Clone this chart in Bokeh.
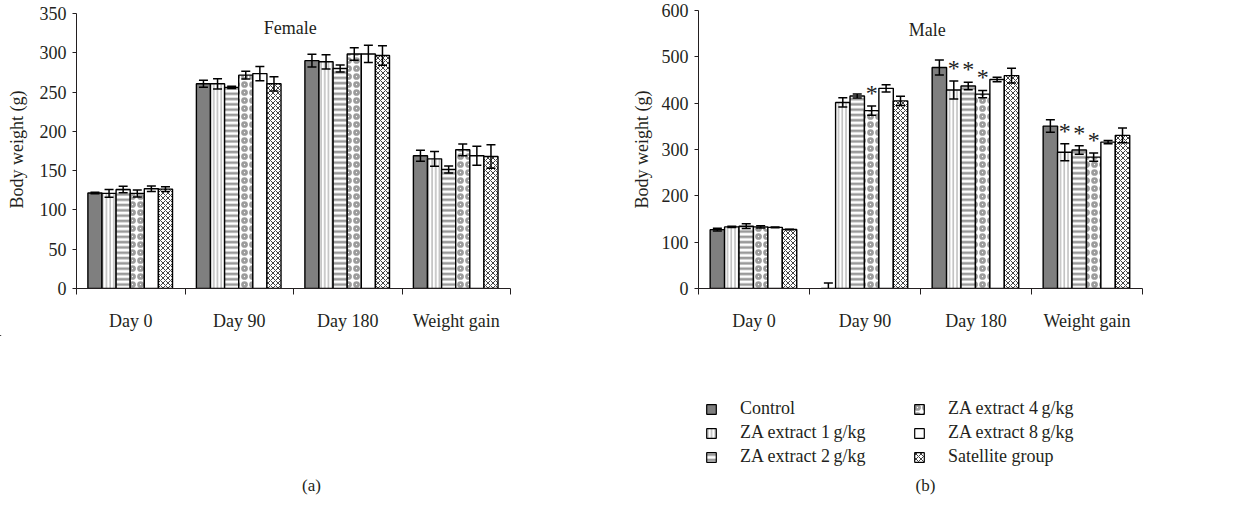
from bokeh.plotting import figure
from bokeh.models import ColumnDataSource, FixedTicker, Label, Legend, LegendItem, Range1d
from bokeh.layouts import row, column
from bokeh.embed import file_html
from bokeh.resources import INLINE

FONT = "Liberation Serif"
INK = "#231f20"

categories = ["Day 0", "Day 90", "Day 180", "Weight gain"]
series = ["Control", "ZA extract 1\u2009g/kg", "ZA extract 2\u2009g/kg",
          "ZA extract 4\u2009g/kg", "ZA extract 8\u2009g/kg", "Satellite group"]

# Female means / SD
f_control = [121.5, 260.5, 290.0, 169.0]
f_za1 = [121.0, 260.5, 288.5, 165.0]
f_za2 = [126.0, 256.0, 280.0, 151.5]
f_za4 = [121.0, 271.5, 298.5, 176.5]
f_za8 = [127.0, 273.5, 298.5, 169.0]
f_sat = [126.5, 260.5, 296.5, 168.0]
f_control_err = [1.0, 4.5, 8.0, 7.0]
f_za1_err = [5.0, 6.5, 9.0, 9.5]
f_za2_err = [4.0, 1.5, 4.5, 4.5]
f_za4_err = [4.5, 5.0, 8.0, 7.5]
f_za8_err = [3.5, 9.0, 11.0, 12.0]
f_sat_err = [3.0, 9.0, 12.5, 15.0]

# Male means / SD
m_control = [127.0, 0.0, 477.0, 350.5]
m_za1 = [133.0, 401.5, 428.5, 294.0]
m_za2 = [134.5, 415.5, 437.0, 299.0]
m_za4 = [133.0, 384.0, 419.5, 283.5]
m_za8 = [132.0, 432.0, 451.0, 316.0]
m_sat = [127.5, 405.0, 459.5, 330.5]
m_control_err = [3.0, 12.0, 16.0, 13.5]
m_za1_err = [1.5, 10.0, 19.5, 18.5]
m_za2_err = [5.0, 4.5, 8.0, 9.0]
m_za4_err = [2.5, 10.0, 8.0, 9.0]
m_za8_err = [1.0, 8.0, 5.0, 3.5]
m_sat_err = [0.5, 10.0, 16.0, 16.0]

# significance markers (male)
m_stars = [[0, 0, 0, 0], [0, 0, 1, 1], [0, 0, 1, 1], [0, 1, 1, 1], [0, 0, 0, 0], [0, 0, 0, 0]]
f_stars = [[0, 0, 0, 0]] * 6


def styles():
    return [
        dict(fill_color="#7f7f7f"),
        dict(fill_color="white", hatch_pattern="vertical_line", hatch_color="#9a9a9a", hatch_scale=3.7, hatch_weight=1.0),
        dict(fill_color="white", hatch_pattern="horizontal_line", hatch_color="#9a9a9a", hatch_scale=5.3, hatch_weight=2.6),
        dict(fill_color="white", hatch_pattern="ring", hatch_color="#9c9c9c", hatch_scale=8, hatch_weight=2.7),
        dict(fill_color="white"),
        dict(fill_color="white", hatch_pattern="diagonal_cross", hatch_color="#111111", hatch_scale=5, hatch_weight=0.8),
    ]


OFFSET = 0.105
BW = 0.13
TOP_H = 335


def make_panel(means, errs, stars, ymax, ystep, ytop, bl, br, title, title_xy, lab_standoff):
    p = figure(width=610, height=TOP_H, x_range=Range1d(0, 4), y_range=Range1d(0, ytop),
               output_backend="svg", toolbar_location=None,
               min_border_left=bl, min_border_right=br, min_border_top=10, min_border_bottom=47)
    p.outline_line_color = None
    p.xgrid.visible = False
    p.ygrid.visible = False

    xa = p.xaxis[0]
    xa.ticker = FixedTicker(ticks=[i + 0.5 for i in range(4)], minor_ticks=[0, 1, 2, 3, 4])
    xa.major_label_overrides = {i + 0.5: c for i, c in enumerate(categories)}
    xa.major_tick_out = 0
    xa.major_tick_in = 0
    xa.minor_tick_out = 6
    xa.minor_tick_in = 0
    xa.minor_tick_line_color = INK
    xa.axis_line_color = INK
    xa.major_label_standoff = 16
    xa.major_label_text_font = FONT
    xa.major_label_text_font_size = "18px"
    xa.major_label_text_color = INK

    ya = p.yaxis[0]
    ya.ticker = FixedTicker(ticks=list(range(0, ymax + 1, ystep)))
    ya.bounds = (0, ymax)
    ya.major_tick_out = 4
    ya.major_tick_in = 0
    ya.minor_tick_line_color = None
    ya.axis_line_color = INK
    ya.major_tick_line_color = INK
    ya.major_label_standoff = 6
    ya.major_label_text_font = FONT
    ya.major_label_text_font_size = "18px"
    ya.major_label_text_color = INK
    ya.axis_label = "Body weight (g)"
    ya.axis_label_text_font = FONT
    ya.axis_label_text_font_style = "normal"
    ya.axis_label_text_font_size = "18px"
    ya.axis_label_text_color = INK
    ya.axis_label_standoff = lab_standoff

    st = styles()
    for j, name in enumerate(series):
        xs = [i + OFFSET + (j + 0.5) * BW for i in range(4)]
        m = means[j]
        e = errs[j]
        src = ColumnDataSource(dict(
            x=xs, top=m,
            lo=[a - b for a, b in zip(m, e)],
            hi=[a + b for a, b in zip(m, e)],
        ))
        p.vbar(x="x", top="top", bottom=0, width=BW, source=src,
               line_color="black", line_width=1.4, **st[j])
        p.segment(x0="x", y0="lo", x1="x", y1="hi", source=src, line_color="black", line_width=1.5)
        p.scatter(x="x", y="hi", source=src, marker="dash", size=9, line_color="black", line_width=1.5)
        p.scatter(x="x", y="lo", source=src, marker="dash", size=9, line_color="black", line_width=1.5)
        sx = [x for x, s in zip(xs, stars[j]) if s]
        sy = [a + b for a, b, s in zip(m, e, stars[j]) if s]
        if sx:
            p.text(x=sx, y=sy, text=["*"] * len(sx), text_align="center", text_baseline="bottom",
                   text_font={"value": FONT}, text_font_size="24px", text_color="#222222")

    p.add_layout(Label(x=title_xy[0], y=title_xy[1], text=title, text_align="center",
                       text_baseline="middle", text_font=FONT, text_font_size="18px", text_color=INK))
    return p


female = make_panel(
    [f_control, f_za1, f_za2, f_za4, f_za8, f_sat],
    [f_control_err, f_za1_err, f_za2_err, f_za4_err, f_za8_err, f_sat_err],
    f_stars, 350, 50, 353.8, 76, 100, "Female", (1.97, 332), 10)

male = make_panel(
    [m_control, m_za1, m_za2, m_za4, m_za8, m_sat],
    [m_control_err, m_za1_err, m_za2_err, m_za4_err, m_za8_err, m_sat_err],
    m_stars, 600, 100, 600, 88, 78, "Male", (2.06, 557), 7)

# bottom strip: legend and panel captions (screen-like coordinates, y downwards)
BOT_H = 163
bottom = figure(width=1220, height=BOT_H, x_range=Range1d(0, 1220), y_range=Range1d(BOT_H, 0),
                output_backend="svg", toolbar_location=None,
                x_axis_location=None, y_axis_location=None,
                min_border_left=0, min_border_right=0, min_border_top=0, min_border_bottom=0)
bottom.outline_line_color = None
bottom.xgrid.visible = False
bottom.ygrid.visible = False

# off-screen swatches that only feed the legend glyphs
dummy = []
bst = styles()
for j in range(6):
    dummy.append(bottom.vbar(x=[-50], top=[-50], bottom=[-60], width=1,
                             line_color="black", line_width=1.2, **bst[j]))


def make_legend(items, loc):
    return Legend(items=[LegendItem(label=series[k], renderers=[dummy[k]]) for k in items],
                  location=loc, orientation="vertical",
                  glyph_width=12, glyph_height=12, label_standoff=23,
                  label_height=20, spacing=3, padding=0, margin=0,
                  border_line_color=None, background_fill_alpha=0,
                  label_text_font=FONT, label_text_font_size="18px", label_text_color=INK)


bottom.add_layout(make_legend([0, 1, 2], (705, 31)))
bottom.add_layout(make_legend([3, 4, 5], (913, 31)))
bottom.add_layout(Label(x=311, y=150, text="(a)", text_align="center", text_baseline="middle",
                        text_font=FONT, text_font_size="17px", text_color=INK))
bottom.add_layout(Label(x=925, y=150, text="(b)", text_align="center", text_baseline="middle",
                        text_font=FONT, text_font_size="17px", text_color=INK))

layout = column(row(female, male), bottom)
open("out.html", "w").write(file_html(layout, INLINE))
